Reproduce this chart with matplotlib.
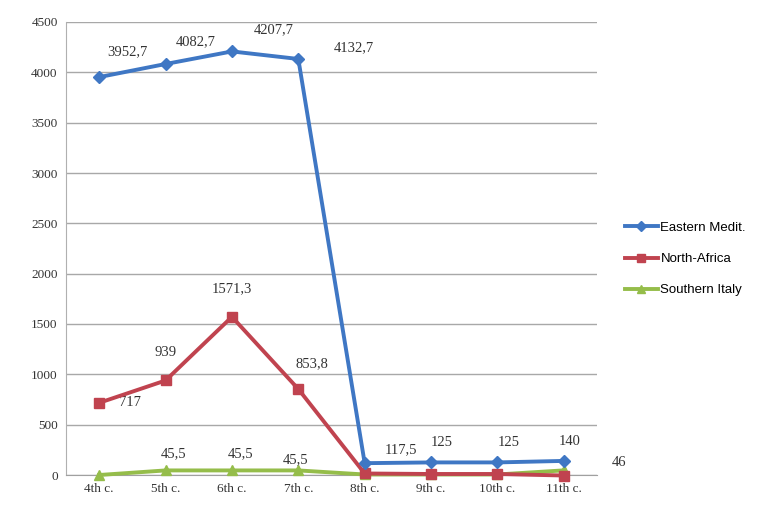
import matplotlib
matplotlib.use("Agg")
import matplotlib.pyplot as plt

categories = ["4th c.", "5th c.", "6th c.", "7th c.", "8th c.", "9th c.", "10th c.", "11th c."]
eastern = [3952.7, 4082.7, 4207.7, 4132.7, 117.5, 125, 125, 140]
north_africa = [717, 939, 1571.3, 853.8, 15, 10, 10, -5]
southern_italy = [0, 45.5, 45.5, 45.5, 5, 5, 5, 46]

eastern_labels = ["3952,7", "4082,7", "4207,7", "4132,7", "117,5", "125", "125", "140"]
na_labels = ["717", "939", "1571,3", "853,8", None, None, None, None]
si_labels = [None, "45,5", "45,5", "45,5", None, None, None, "46"]

yticks = list(range(0, 4501, 500))

fig = plt.figure(figsize=(7.62, 5.05), dpi=100)
ax = fig.add_axes([66/762, 30/505, 531/762, 453/505])

x = list(range(len(categories)))
c_blue = "#3f77c4"
c_red = "#c0434f"
c_green = "#95bd4a"

ax.plot(x, southern_italy, color=c_green, lw=2.8, marker="^", ms=7.5, label="Southern Italy", zorder=3, clip_on=False)
ax.plot(x, north_africa, color=c_red, lw=2.8, marker="s", ms=7.5, label="North-Africa", zorder=4, clip_on=False)
ax.plot(x, eastern, color=c_blue, lw=2.8, marker="D", ms=6.5, label="Eastern Medit.", zorder=5, clip_on=False)

ax.set_xlim(-0.5, 7.5)
ax.set_ylim(0, 4500)
ax.set_yticks(yticks)
ax.set_xticks(x)
ax.set_xticklabels(categories)
ax.grid(axis="y", color="#a8a8a8", lw=1)
ax.set_axisbelow(True)
for s in ["top", "right"]:
    ax.spines[s].set_visible(False)
ax.spines["left"].set_color("#b0b0b0")
ax.spines["bottom"].set_color("#a0a0a0")
ax.tick_params(length=0, labelsize=9.5, pad=6)
for t in ax.get_xticklabels() + ax.get_yticklabels():
    t.set_family("Liberation Serif")
    t.set_color("#333333")

lab_font = dict(family="Liberation Serif", fontsize=10.5, color="#333333")
e_off = [(20, 18), (22, 16), (30, 16), (40, 8), (26, 10), (8, 14), (8, 14), (4, 14)]
for i, (v, t) in enumerate(zip(eastern, eastern_labels)):
    ax.annotate(t, (i, v), xytext=e_off[i], textcoords="offset points", ha="center", va="center", **lab_font)
na_off = [(22, 0), (0, 20), (0, 20), (10, 18)]
for i, (v, t) in enumerate(zip(north_africa, na_labels)):
    if t:
        ax.annotate(t, (i, v), xytext=na_off[i], textcoords="offset points", ha="center", va="center", **lab_font)
si_off = {1: (6, 12), 2: (6, 12), 3: (-2, 8), 7: (40, 6)}
for i, (v, t) in enumerate(zip(southern_italy, si_labels)):
    if t:
        ax.annotate(t, (i, v), xytext=si_off[i], textcoords="offset points", ha="center", va="center", **lab_font)

handles, labels = ax.get_legend_handles_labels()
leg = fig.legend(handles[::-1], labels[::-1], loc="center left", bbox_to_anchor=(613/762, 1 - 259/505),
                 frameon=False, prop=dict(family="Liberation Sans", size=9.5), handlelength=2.5,
                 handletextpad=0.2, labelspacing=1.45, markerscale=0.8)

fig.savefig("out.png", dpi=100)
